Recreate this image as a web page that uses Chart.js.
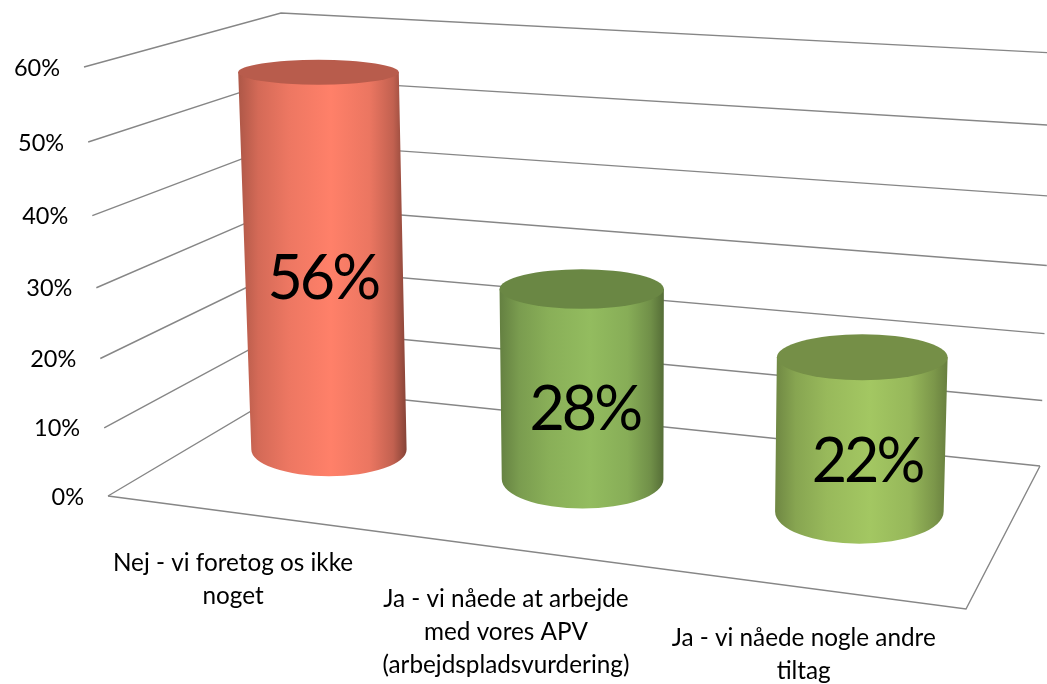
<!DOCTYPE html>
<html lang="en">
<head>
<title>APV</title>
<style>
    html, body { margin: 0; padding: 0; background: #ffffff; overflow: hidden; }
    #chart { display: block; }
</style>
</head>
<body>
<canvas id="chart" width="1047" height="684"></canvas>
<script src="https://cdn.jsdelivr.net/npm/chart.js"></script>
<script>
const categories = [
    ["Nej - vi foretog os ikke", "noget"],
    ["Ja - vi nåede at arbejde", "med vores APV", "(arbejdspladsvurdering)"],
    ["Ja - vi nåede nogle andre", "tiltag"]
];
const answerValues = [56, 28, 22];
const barColors = ["rgb(255,128,105)", "rgb(147,188,95)", "rgb(163,199,98)"];

// corners of the 3D box as they land on the page
const floorFrontLeft = [108, 496], floorFrontRight = [966, 609];
const floorBackLeft = [290, 388], floorBackRight = [1040, 466];
const topFrontLeft = [84, 67], topFrontRight = [979, 122];
const topBackLeft = [281, 13], topBackRight = [1054, 53];

const depthOfBars = 0.56;
const depthRadius = 0.207;
const lineColor = "#868686";
const fontName = "Lato, Carlito, sans-serif";

function lerp(a, b, t) {
    return [a[0] + (b[0] - a[0]) * t, a[1] + (b[1] - a[1]) * t];
}

// perspective squeeze along one edge of the box
function squeeze(t, r) {
    return t / (t + (1 - t) * r);
}

function project(u, t, w) {
    const uu = squeeze(u, 1.14);
    const tt = squeeze(t, 1.06);
    const floor = lerp(lerp(floorFrontLeft, floorFrontRight, uu), lerp(floorBackLeft, floorBackRight, uu), w);
    const top = lerp(lerp(topFrontLeft, topFrontRight, uu), lerp(topBackLeft, topBackRight, uu), w);
    return lerp(floor, top, tt);
}

function ringAt(u, t, halfU) {
    const c = project(u, t, depthOfBars);
    const front = project(u, t, 0);
    const back = project(u, t, 1);
    const uu = squeeze(u, 1.14);
    const planeWidth = project(1, t, depthOfBars)[0] - project(0, t, depthOfBars)[0];
    return {
        x: c[0],
        y: c[1],
        rx: halfU * planeWidth * (0.955 + 0.125 * uu),
        ry: depthRadius * (front[1] - back[1])
    };
}

function shade(color, f) {
    const p = color.match(/\d+/g).map(Number);
    return "rgb(" + p.map(function (c) { return Math.round(c * f); }).join(",") + ")";
}

function drawCylinder(ctx, base, top, color, u) {
    const left = Math.min(base.x - base.rx, top.x - top.rx);
    const right = Math.max(base.x + base.rx, top.x + top.rx);
    const g = ctx.createLinearGradient(left, 0, right, 0);
    g.addColorStop(0, shade(color, 0.68));
    g.addColorStop(0.12, shade(color, 0.83));
    g.addColorStop(0.3, shade(color, 0.93));
    g.addColorStop(0.55, shade(color, 1));
    g.addColorStop(0.78, shade(color, 0.92));
    g.addColorStop(0.92, shade(color, 0.76));
    g.addColorStop(1, shade(color, 0.5 + 0.17 * u));

    ctx.beginPath();
    ctx.moveTo(top.x - top.rx, top.y);
    ctx.lineTo(base.x - base.rx, base.y);
    ctx.ellipse(base.x, base.y, base.rx, base.ry * 1.14, 0, Math.PI, 0, true);
    ctx.lineTo(top.x + top.rx, top.y);
    ctx.closePath();
    ctx.fillStyle = g;
    ctx.fill();

    ctx.beginPath();
    ctx.ellipse(top.x, top.y, top.rx, top.ry, 0, 0, Math.PI * 2);
    ctx.fillStyle = shade(color, 0.72);
    ctx.fill();
}

function uOf(chart, px) {
    const sx = chart.scales.x;
    return (px - sx.left) / sx.width;
}

function tOf(chart, py) {
    const sy = chart.scales.y;
    return (sy.bottom - py) / sy.height;
}

const box3d = {
    id: "box3d",
    beforeDatasetsDraw(chart) {
        const ctx = chart.ctx;
        const sy = chart.scales.y;
        ctx.save();
        ctx.strokeStyle = lineColor;
        ctx.lineWidth = 1.4;
        sy.ticks.forEach(function (tick) {
            const t = tOf(chart, sy.getPixelForValue(tick.value));
            const a = project(0, t, 0), b = project(0, t, 1), c = project(1, t, 1);
            ctx.beginPath();
            ctx.moveTo(a[0], a[1]);
            ctx.lineTo(b[0], b[1]);
            ctx.lineTo(c[0], c[1]);
            ctx.stroke();

            ctx.fillStyle = "#000000";
            ctx.font = "23.5px " + fontName;
            ctx.textAlign = "right";
            ctx.textBaseline = "middle";
            ctx.fillText(tick.value + "%", a[0] - 24, a[1] + 1);
        });
        ctx.beginPath();
        ctx.moveTo(floorFrontLeft[0], floorFrontLeft[1]);
        ctx.lineTo(floorFrontRight[0], floorFrontRight[1]);
        ctx.lineTo(floorBackRight[0], floorBackRight[1]);
        ctx.stroke();
        ctx.restore();
    },
    beforeDatasetDraw(chart, args) {
        const ctx = chart.ctx;
        const sy = chart.scales.y;
        const zeroPx = sy.getPixelForValue(0);
        ctx.save();
        args.meta.data.forEach(function (bar, i) {
            const u = uOf(chart, bar.x);
            const uu = squeeze(u, 1.14);
            const halfU = bar.width / 2 / chart.scales.x.width;
            const base = ringAt(u, tOf(chart, zeroPx), halfU);
            const top = ringAt(u, tOf(chart, bar.y), halfU);
            drawCylinder(ctx, base, top, barColors[i], uu);

            // value label sits a little above the middle of the bar, then drops
            ctx.fillStyle = "#000000";
            ctx.font = "61px " + fontName;
            ctx.letterSpacing = "-3px";
            ctx.textAlign = "center";
            ctx.textBaseline = "middle";
            const labelX = base.x + (top.x - base.x) * 0.54 - 2 + 10 * uu;
            const labelY = base.y + (top.y - base.y) * 0.54 + 34;
            ctx.fillText(answerValues[i] + "%", labelX, labelY);
            ctx.letterSpacing = "0px";

            const edge = project(u, 0, 0);
            ctx.font = "24.3px " + fontName;
            categories[i].forEach(function (line, n) {
                ctx.fillText(line, edge[0] - 3, edge[1] + 50 + n * 33);
            });
        });
        ctx.restore();
        return false;
    }
};

new Chart(document.getElementById("chart"), {
    type: "bar",
    data: {
        labels: categories,
        datasets: [{
            label: "Svar",
            data: answerValues,
            backgroundColor: barColors,
            categoryPercentage: 1,
            barPercentage: 0.6
        }]
    },
    options: {
        responsive: false,
        animation: false,
        layout: { padding: 0 },
        plugins: { legend: { display: false }, tooltip: { enabled: false } },
        scales: {
            x: { display: false, offset: true },
            y: { display: false, min: 0, max: 60, ticks: { stepSize: 10 } }
        }
    },
    plugins: [box3d]
});
</script>
</body>
</html>
